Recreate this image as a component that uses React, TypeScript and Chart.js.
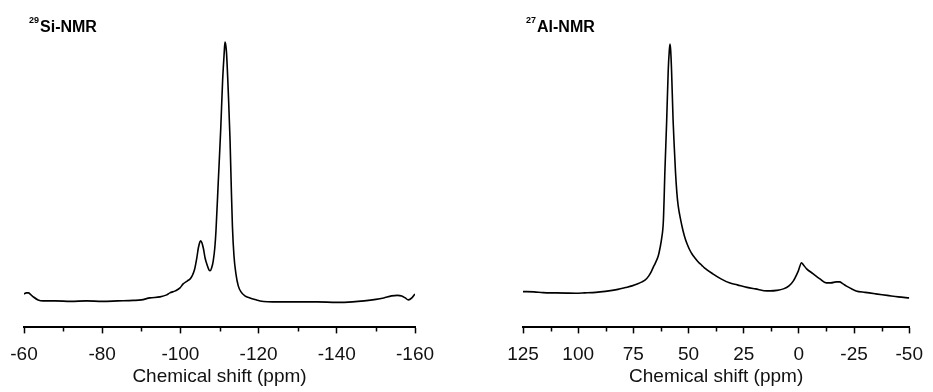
import React, { useEffect, useRef } from 'react';
import { Chart, registerables } from 'chart.js';

Chart.register(...registerables);

const FONT = '"Liberation Sans", Arial, Helvetica, sans-serif';

// 29Si-NMR spectrum (chemical shift in ppm, intensity a.u.)
const siShift = [
  -60.0, -60.6, -61.1, -61.8, -62.4, -63.6, -64.9, -68, -72, -76, -80, -84, -88, -90,
  -92.2, -94.8, -96.5, -97.3, -98.7, -99.9, -100.7, -101.8, -102.5, -103.0, -103.6,
  -104.2, -104.6, -105.0, -105.2, -105.5, -105.9, -106.3, -106.9, -107.3, -107.6,
  -108.0, -108.4, -108.8, -109.1, -109.7, -110.3, -110.8, -111.2, -111.4, -111.6,
  -111.8, -112.3, -112.7, -113.0, -113.3, -113.7, -114.2, -114.8, -115.5, -116.5,
  -117.8, -119.5, -120.4, -125, -130, -135, -140, -144, -147, -150, -152, -154,
  -155.5, -156.6, -157.5, -158.3, -159.2, -160,
];
const siIntensity = [
  7, 8, 8, 6, 4, 1, 0, 0, -0.5, 0, -0.5, 0, 0.5, 1,
  3, 4, 6, 8, 10, 13, 17, 20, 22, 25, 31,
  43, 53, 59, 60, 58, 52, 43, 35, 31, 30,
  33, 40, 53, 70, 120, 170, 220, 247, 258, 255,
  247, 203, 160, 115, 75, 45, 27, 15, 9, 5,
  3, 1, 0, -1, -1, -1, -1.5, -1, 0, 1.5, 3, 5,
  5.5, 5, 3, 1, 3, 7,
];

// 27Al-NMR spectrum (chemical shift in ppm, intensity a.u.)
const alShift = [
  125, 120, 115.9, 110, 105, 101, 97, 93.5, 90, 86.1, 82, 78.6, 75.6, 73, 71.1, 69.6,
  68, 66.7, 65.9, 65.2, 63.7, 62.9, 62.2, 61.4, 60.7, 59.9, 59.2, 58.7, 58.4, 58.1,
  57.7, 57.0, 56.5, 55.9, 55.3, 54.7, 53.5, 52.5, 51.5, 50.5, 49.5, 48.5, 47, 45.5,
  44, 42.8, 39, 35.3, 31.5, 27.9, 23.5, 19.7, 14.4, 12.9, 10, 7.0, 4.5, 2.5, 0.25,
  -1.2, -2, -3.5, -6.5, -9.5, -12.4, -14.5, -16.9, -18.4, -20, -21.4, -25.9, -30,
  -34.8, -40, -45, -50,
];
const alIntensity = [
  9.3, 9, 8.3, 8, 7.8, 7.7, 8, 8.3, 9, 10, 11.5, 13.3, 15, 17, 19, 21,
  25, 30, 34, 37, 45, 53, 62, 80, 130, 180, 230, 250, 256, 250,
  230, 180, 155, 128, 108, 95, 80, 70, 62, 56, 51, 47, 42.5, 38.5,
  35.5, 33, 27, 22, 18, 16, 13.5, 12, 10, 10, 10.5, 12, 15, 20, 30,
  38, 36, 32, 27, 22, 18, 18, 19, 19, 17, 15, 10, 8.5,
  7, 5.5, 4, 3,
];

const siMinorTicks = [-70, -90, -110, -130, -150];
const alMinorTicks = [112.5, 87.5, 62.5, 37.5, 12.5, -12.5, -37.5];

const xAxisTitle = 'Chemical shift (ppm)';
const siTitle = ['29', 'Si-NMR'];
const alTitle = ['27', 'Al-NMR'];

type PanelSpec = {
  shift: number[];
  intensity: number[];
  min: number;
  max: number;
  step: number;
  minor: number[];
  title: string[];
  titleX: number;
  padLeft: number;
  padRight: number;
};

function buildConfig(p: PanelSpec): any {
  const titlePlugin = {
    id: 'nmrTitle',
    afterDraw(chart: any) {
      const ctx = chart.ctx;
      ctx.save();
      ctx.fillStyle = '#000';
      ctx.textBaseline = 'alphabetic';
      ctx.textAlign = 'left';
      ctx.font = `bold 9px ${FONT}`;
      ctx.fillText(p.title[0], p.titleX, 23);
      const w = ctx.measureText(p.title[0]).width;
      ctx.font = `bold 16px ${FONT}`;
      ctx.fillText(p.title[1], p.titleX + w + 1, 32);
      ctx.restore();
    },
  };
  const minorPlugin = {
    id: 'minorTicks',
    afterDraw(chart: any) {
      const scale = chart.scales.x;
      const ctx = chart.ctx;
      const y0 = chart.chartArea.bottom;
      ctx.save();
      ctx.strokeStyle = '#000';
      ctx.lineWidth = 1.5;
      ctx.beginPath();
      for (const v of p.minor) {
        const px = Math.round(scale.getPixelForValue(v)) + 0.5;
        ctx.moveTo(px, y0);
        ctx.lineTo(px, y0 + 4);
      }
      ctx.stroke();
      ctx.restore();
    },
  };
  return {
    type: 'line',
    data: {
      datasets: [
        {
          data: p.shift.map((x, i) => ({ x, y: p.intensity[i] })),
          borderColor: '#000',
          borderWidth: 1.6,
          pointRadius: 0,
          fill: false,
          cubicInterpolationMode: 'monotone',
        },
      ],
    },
    options: {
      responsive: false,
      animation: false,
      layout: { padding: { left: p.padLeft, right: p.padRight, top: 10, bottom: 0 } },
      plugins: { legend: { display: false }, tooltip: { enabled: false } },
      scales: {
        x: {
          type: 'linear',
          min: p.min,
          max: p.max,
          reverse: true,
          border: { display: true, color: '#000', width: 2 },
          grid: {
            display: true,
            drawOnChartArea: false,
            drawTicks: true,
            tickLength: 6,
            tickColor: '#000',
            tickWidth: 1.5,
          },
          ticks: {
            stepSize: p.step,
            padding: 10,
            maxRotation: 0,
            autoSkip: false,
            color: '#111',
            font: { family: FONT, size: 19 },
          },
          title: {
            display: true,
            text: xAxisTitle,
            color: '#111',
            font: { family: FONT, size: 19 },
            padding: { top: -11, bottom: 4 },
          },
        },
        y: {
          display: false,
          min: -26.4,
          max: 290,
        },
      },
    },
    plugins: [titlePlugin, minorPlugin],
  };
}

function Panel({ spec, left, width }: { spec: PanelSpec; left: number; width: number }) {
  const ref = useRef<HTMLCanvasElement | null>(null);
  useEffect(() => {
    if (!ref.current) return;
    const chart = new Chart(ref.current, buildConfig(spec));
    return () => chart.destroy();
  }, []);
  return (
    <canvas
      ref={ref}
      width={width}
      height={392}
      style={{ position: 'absolute', left, top: 0, width, height: 392 }}
    />
  );
}

export default function App() {
  const si: PanelSpec = {
    shift: siShift,
    intensity: siIntensity,
    min: -160,
    max: -60,
    step: 20,
    minor: siMinorTicks,
    title: siTitle,
    titleX: 29,
    padLeft: 24,
    padRight: 51,
  };
  const al: PanelSpec = {
    shift: alShift,
    intensity: alIntensity,
    min: -50,
    max: 125,
    step: 25,
    minor: alMinorTicks,
    title: alTitle,
    titleX: 60,
    padLeft: 57,
    padRight: 19,
  };
  return (
    <div style={{ position: 'absolute', left: 0, top: 0, width: 933, height: 392, background: '#fff' }}>
      <Panel spec={si} left={0} width={466} />
      <Panel spec={al} left={466} width={467} />
    </div>
  );
}
